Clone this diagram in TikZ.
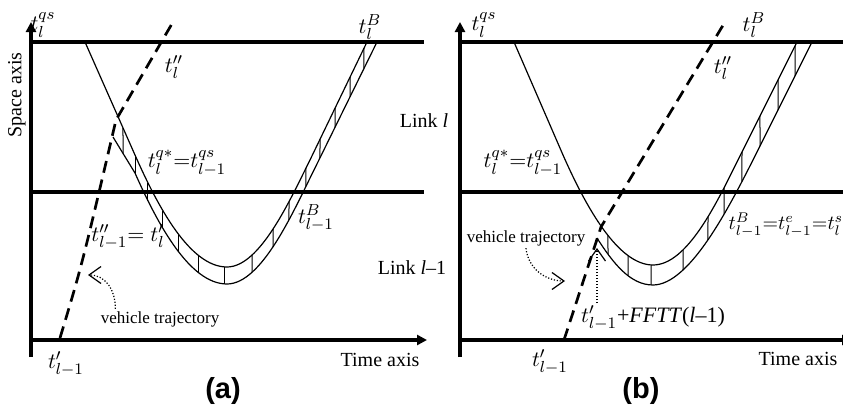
\documentclass[tikz,border=0pt]{standalone}
\usepackage{fontspec}
\setmainfont{Liberation Serif}
\newfontfamily\panelfont{Liberation Sans}
\usetikzlibrary{arrows.meta,intersections}
\tikzset{
  axis/.style={line width=1.6pt,-{Triangle[length=5pt,width=5pt]}},
  linkline/.style={line width=1.6pt},
  queue/.style={line width=0.6pt},
  hatch/.style={line width=0.5pt},
  traj/.style={line width=1.35pt,dash pattern=on 6pt off 3.5pt},
  pointer/.style={line width=0.6pt,dash pattern=on 0.6pt off 0.9pt,
                  -{Straight Barb[length=6pt,width=8.5pt]}},
  lbl/.style={inner sep=1pt,font=\fontsize{11}{13}\selectfont},
  txt/.style={inner sep=1pt,font=\fontsize{10}{12}\selectfont},
  note/.style={inner sep=1pt,font=\fontsize{8.5}{10}\selectfont},
  panel/.style={inner sep=1pt,font=\panelfont\bfseries\fontsize{14.5}{17}\selectfont},
}

\begin{document}
\begin{tikzpicture}[x=0.5pt,y=-0.5pt]
  \useasboundingbox (0,0) rectangle (843,407);
  % ---------------- panel (a) : axes and link boundaries ----------------
  \draw[axis] (31,357) -- (31,22);
  \draw[axis] (31,340) -- (427,340);
  \draw[linkline] (31,42) -- (424,42);
  \draw[linkline] (31,192) -- (424,192);
  % ---------------- panel (a) : queue boundaries ----------------
  \draw[queue,name path=upA] (85,42) -- (135,155)
    .. controls (158,207) and (190,267) .. (227,267)
    .. controls (260,267) and (290,200) .. (310,160) -- (367,42);
  \draw[queue,name path=lowA] (113,137) -- (135,173)
    .. controls (158,225) and (190,284) .. (227,284)
    .. controls (262,284) and (294,210) .. (314,170) -- (377,42);
  \foreach \x in {123,136,148,163,179,198,225,252,273,289,306,320,335,350,364}{
    \path[name path=vline] (\x,0) -- (\x,400);
    \path[name intersections={of=upA and vline,by=hiPt}];
    \path[name intersections={of=lowA and vline,by=loPt}];
    \draw[hatch] (hiPt) -- (loPt);}
  % ---------------- panel (a) : trajectory ----------------
  \draw[traj] (60,338) .. controls (82,265) .. (116,120) -- (173,22);
  % ---------------- panel (a) : labels ----------------
  \node[lbl] (qsTopA)  at (43,25)   {$t_l^{qs}$};
  \node[lbl] (bTopA)   at (370,27)  {$t_l^{B}$};
  \node[lbl] (ppTopA)  at (174,67)  {$t_l''$};
  \node[lbl] (qStarA)  at (187,163) {$t_l^{q*}{=}t_{l-1}^{qs}$};
  \node[lbl] (ppLowA)  at (128,237) {$t_{l-1}''{=}\;t_l'$};
  \node[lbl] (bLowA)   at (316,218) {$t_{l-1}^{B}$};
  \node[lbl] (pLowA)   at (66,364)  {$t_{l-1}'$};
  \node[txt,rotate=90] (spaceA) at (17,95) {Space axis};
  \node[txt] (timeA)   at (380,360) {Time axis};
  \node[note] (vtA)    at (160,319) {vehicle trajectory};
  \node[panel] (capA)  at (223,391) {(a)};
  \coordinate (tipA) at (88,275);
  \draw[pointer] ([xshift=8.5pt]vtA.north west) .. controls +(0,-20) and +(17,0) .. (tipA);
  % ---------------- link names ----------------
  \node[txt] (linkUp)  at (424,121) {Link \textit{l}};
  \node[txt] (linkLow) at (412,268) {Link \textit{l}–1};
  % ---------------- panel (b) : axes and link boundaries ----------------
  \draw[axis] (460,357) -- (460,22);
  \draw[axis] (460,340) -- (852,340);
  \draw[linkline] (460,42) -- (843,42);
  \draw[linkline] (460,192) -- (843,192);
  % ---------------- panel (b) : queue boundaries ----------------
  \draw[queue,name path=upB] (514,42) -- (563,155)
    .. controls (586,207) and (618,265) .. (653,265)
    .. controls (688,265) and (718,200) .. (738,160) -- (797,42);
  \draw[queue,name path=lowB] (597,238)
    .. controls (613,263) and (630,285) .. (653,285)
    .. controls (690,285) and (730,205) .. (752,162) -- (812,42);
  \foreach \x in {608,628,651,683,708,724,742,760,778,795}{
    \path[name path=vline] (\x,0) -- (\x,400);
    \path[name intersections={of=upB and vline,by=hiPt}];
    \path[name intersections={of=lowB and vline,by=loPt}];
    \draw[hatch] (hiPt) -- (loPt);}
  % ---------------- panel (b) : trajectory ----------------
  \draw[traj] (564,340) -- (601,227) -- (725,22);
  % ---------------- panel (b) : labels ----------------
  \node[lbl] (qsTopB)  at (484,25)  {$t_l^{qs}$};
  \node[lbl] (bTopB)   at (754,25)  {$t_l^{B}$};
  \node[lbl] (ppTopB)  at (723,68)  {$t_l''$};
  \node[lbl] (qStarB)  at (523,163) {$t_l^{q*}{=}t_{l-1}^{qs}$};
  \node[lbl,font=\fontsize{10}{12}\selectfont] (bLowB) at (786,225)
    {$t_{l-1}^{B}{=}t_{l-1}^{e}{=}t_l^{s}$};
  \node[lbl] (pLowB)   at (550,362) {$t_{l-1}'$};
  \node[lbl] (ffttB)   at (653,318) {$t_{l-1}'$+\textit{FFTT}(\textit{l}–1)};
  \node[txt] (timeB)   at (798,359) {Time axis};
  \node[note] (vtB)    at (526,238) {vehicle trajectory};
  \node[panel] (capB)  at (641,391) {(b)};
  \coordinate (tipB) at (565,281);
  \coordinate (tipC) at (597,248);
  \draw[pointer] (vtB.south) .. controls +(2,20) and +(-20,0) .. (tipB);
  \draw[pointer] (ffttB.north -| tipC) -- (tipC);
\end{tikzpicture}
\end{document}
